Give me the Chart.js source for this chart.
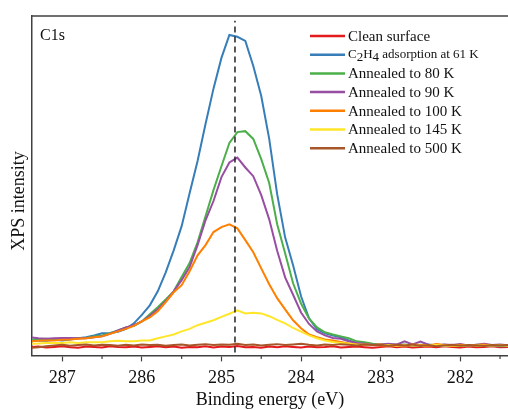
<!DOCTYPE html>
<html>
<head>
<meta charset="utf-8">
<script src="https://cdn.jsdelivr.net/npm/chart.js@4/dist/chart.umd.min.js"></script>
<style>
  body { margin: 0; background: #fff; }
  canvas { display: block; }
</style>
</head>
<body>
<canvas id="xps" width="508" height="410"></canvas>
<script>
// binding energy grid (eV), high to low
var energy = [287.4, 287.3, 287.2, 287.1, 287.0, 286.9, 286.8, 286.7, 286.6, 286.5,
              286.4, 286.3, 286.2, 286.1, 286.0, 285.9, 285.8, 285.7, 285.6, 285.5,
              285.4, 285.3, 285.2, 285.1, 285.0, 284.9, 284.8, 284.7, 284.6, 284.5,
              284.4, 284.3, 284.2, 284.1, 284.0, 283.9, 283.8, 283.7, 283.6, 283.5,
              283.4, 283.3, 283.2, 283.1, 283.0, 282.9, 282.8, 282.7, 282.6, 282.5,
              282.4, 282.3, 282.2, 282.1, 282.0, 281.9, 281.8, 281.7, 281.6, 281.5,
              281.4];

var clean = [-0.6, -0.4, -0.7, -0.5, -0.3, -0.6, -0.8, -0.4, -0.5, -0.7,
             -0.3, -0.5, -0.6, -0.4, -0.7, -0.5, -0.3, -0.6, -0.4, -0.8,
             -0.5, -0.6, -0.3, -0.7, -0.4, -0.5, -0.2, -0.6, -0.5, -0.8,
             -0.4, -0.6, -0.3, -0.5, -0.7, -0.4, -0.6, -0.5, -0.3, -0.7,
             -0.5, -0.4, -0.6, -0.8, -0.5, -0.3, -0.6, -0.4, -0.7, -0.5,
             -0.4, -0.6, -0.3, -0.5, -0.7, -0.4, -0.6, -0.5, -0.3, -0.6,
             -0.5];
var ads61 = [1.6, 1.6, 1.5, 1.8, 1.6, 1.9, 2.3, 2.6, 3.2, 3.9,
             4.0, 4.4, 5.3, 7.1, 9.8, 12.9, 17.4, 23.5, 30.6, 38.4,
             49.0, 59.4, 71.3, 82.7, 92.6, 100.0, 99.4, 98.1, 90.0, 80.3,
             66.5, 48.7, 34.8, 25.8, 15.8, 8.7, 5.2, 3.9, 3.2, 2.6,
             1.6, 0.8, 0.6, 0.3, 0.2, 0.1, 0.3, 0.0, 0.2, -0.1,
             0.3, 0.0, -0.2, 0.1, -0.1, 0.0, 0.2, -0.2, -0.1, -0.3,
             -0.2];
var ann80 = [1.9, 1.9, 2.1, 1.8, 2.0, 2.1, 2.3, 2.4, 2.9, 3.2,
             3.9, 4.8, 5.8, 6.3, 7.7, 10.0, 12.3, 14.8, 17.4, 22.0,
             26.5, 33.2, 41.6, 50.0, 57.7, 65.2, 68.7, 69.0, 66.5, 60.0,
             52.3, 39.0, 29.7, 20.0, 13.5, 8.7, 5.8, 4.2, 3.5, 2.9,
             2.3, 1.3, 1.0, 0.5, 0.2, 0.4, 0.1, 0.3, 0.0, 0.2,
             0.1, -0.1, 0.2, 0.0, -0.1, 0.1, 0.0, -0.2, 0.1, -0.1,
             0.0];
var ann90 = [2.6, 2.3, 2.1, 2.3, 2.4, 2.4, 2.3, 2.3, 2.6, 2.9,
             3.7, 4.8, 5.8, 6.5, 7.7, 9.5, 11.6, 14.2, 17.4, 21.0,
             25.2, 32.3, 40.3, 46.5, 54.2, 58.9, 60.5, 57.3, 54.5, 48.4,
             40.6, 30.5, 21.9, 16.3, 10.6, 6.9, 4.5, 3.2, 2.4, 2.1,
             1.3, 0.8, 0.5, 0.2, 0.3, 0.5, 0.2, 1.3, 0.3, 1.2,
             0.2, 0.0, 0.3, 0.1, 0.4, 0.0, 0.2, 0.5, 0.1, 0.3,
             0.0];
var ann100 = [1.3, 1.5, 1.6, 1.6, 1.8, 1.9, 2.1, 2.3, 2.6, 2.9,
              3.7, 4.5, 5.3, 6.3, 7.7, 9.0, 11.0, 13.9, 17.1, 19.4,
              23.9, 29.0, 32.3, 36.5, 38.1, 39.0, 37.7, 33.9, 30.0, 24.8,
              19.7, 15.2, 11.6, 8.1, 5.5, 3.5, 2.6, 1.9, 1.6, 1.1,
              0.6, 0.3, 0.2, 0.1, 0.3, 0.0, 0.2, -0.1, 0.3, 0.1,
              0.0, 0.4, 0.1, -0.1, 0.2, 0.0, 0.1, 0.3, -0.1, 0.1,
              0.0];
var ann145 = [0.5, 0.6, 0.8, 0.8, 0.8, 1.0, 0.8, 1.0, 1.0, 1.0,
              1.3, 1.5, 1.3, 1.3, 1.6, 1.6, 2.3, 2.9, 3.5, 4.5,
              5.3, 6.5, 7.3, 8.1, 9.2, 10.2, 11.3, 10.3, 10.5, 10.3,
              9.4, 8.2, 7.1, 5.6, 4.4, 3.2, 2.3, 1.6, 1.1, 0.8,
              0.5, 0.2, 0.2, 0.1, 0.0, 0.1, -0.1, 0.0, 0.1, -0.2,
              0.0, 0.1, -0.1, 0.0, -0.2, 0.1, 0.0, -0.1, 0.0, 0.1,
              -0.1];
var ann500 = [-0.8, -0.6, -0.3, 0.0, 0.2, -0.1, 0.1, 0.3, 0.0, 0.2,
              0.1, -0.1, 0.2, 0.0, 0.3, 0.1, 0.2, -0.1, 0.1, 0.3,
              0.0, 0.2, 0.4, 0.1, 0.3, 0.2, 0.5, 0.1, 0.3, 0.0,
              0.2, 0.4, 0.1, 0.3, 0.5, 0.2, 0.0, 0.3, 0.1, 0.4,
              0.2, 0.0, 0.3, 0.1, 0.2, -0.1, 0.2, 0.0, 0.3, -0.2,
              0.1, -0.3, 0.0, 0.2, -0.1, 0.1, 0.0, -0.2, 0.1, 0.0,
              0.1];

var seriesNames = ['Clean surface', 'C2H4 adsorption at 61 K', 'Annealed to 80 K', 'Annealed to 90 K',
                   'Annealed to 100 K', 'Annealed to 145 K', 'Annealed to 500 K'];
var seriesData = [clean, ads61, ann80, ann90, ann100, ann145, ann500];
var seriesColors = ['#e41a1c', '#377eb8', '#4daf4a', '#984ea3', '#ff7f00', '#ffe629', '#a65628'];

var peakEnergy = 284.83;   // dashed reference line
var xTicksMinor = [286.5, 285.5, 284.5, 283.5, 282.5, 281.5];

var axisColor = '#404040';
var serif = '"Liberation Serif", "Times New Roman", serif';

function toPoints(ys) {
    return energy.map(function(e, i) { return {x: e, y: ys[i]}; });
}

var datasets = seriesData.map(function(ys, i) {
    return {
        label: seriesNames[i],
        data: toPoints(ys),
        borderColor: seriesColors[i],
        borderWidth: 2,
        pointRadius: 0,
        tension: 0,
        order: 10 - i
    };
});
datasets.push({
    label: 'peak',
    data: [{x: peakEnergy, y: -2.3}, {x: peakEnergy, y: 104.6}],
    borderColor: '#222',
    borderWidth: 1.5,
    borderDash: [6, 4],
    pointRadius: 0,
    order: 0
});

// frame, minor ticks, titles and legend drawn on top of the chart
var decorations = {
    id: 'decorations',
    afterDraw: function(chart) {
        var ctx = chart.ctx;
        var area = chart.chartArea;
        var xs = chart.scales.x;
        ctx.save();

        // top frame line
        ctx.strokeStyle = axisColor;
        ctx.lineWidth = 1.5;
        ctx.beginPath();
        ctx.moveTo(area.left, area.top);
        ctx.lineTo(area.right, area.top);
        ctx.stroke();

        // minor ticks
        ctx.lineWidth = 1.2;
        xTicksMinor.forEach(function(v) {
            var px = xs.getPixelForValue(v);
            ctx.beginPath();
            ctx.moveTo(px, area.bottom);
            ctx.lineTo(px, area.bottom + 3.5);
            ctx.stroke();
        });

        ctx.fillStyle = '#111';
        ctx.font = '18px ' + serif;
        ctx.textAlign = 'center';
        ctx.textBaseline = 'middle';

        // x title
        ctx.fillText('Binding energy (eV)', (area.left + area.right) / 2, 400);

        // y title
        ctx.translate(19, 201);
        ctx.rotate(-Math.PI / 2);
        ctx.fillText('XPS intensity', 0, 0);
        ctx.setTransform(1, 0, 0, 1, 0, 0);

        // panel label
        ctx.textAlign = 'left';
        ctx.font = '16px ' + serif;
        ctx.fillText('C1s', 40, 36);

        // legend
        var lx = 310, ly = 36, step = 18.7;
        seriesNames.forEach(function(name, i) {
            var y = ly + i * step;
            ctx.strokeStyle = seriesColors[i];
            ctx.lineWidth = 2.5;
            ctx.beginPath();
            ctx.moveTo(lx, y);
            ctx.lineTo(lx + 35, y);
            ctx.stroke();
            ctx.fillStyle = '#111';
            if (i == 1) {
                // C2H4 with lowered digits
                ctx.font = '13px ' + serif;
                var x = lx + 38;
                var parts = [['C', 0], ['2', 3], ['H', 0], ['4', 3], [' adsorption at 61 K', 0]];
                parts.forEach(function(p) {
                    ctx.fillText(p[0], x, y + p[1]);
                    x += ctx.measureText(p[0]).width;
                });
            } else {
                ctx.font = '15px ' + serif;
                ctx.fillText(name, lx + 38, y + 1);
            }
        });
        ctx.restore();
    }
};

var ctx = document.getElementById('xps');
var chart = new Chart(ctx, {
    type: 'line',
    data: { datasets: datasets },
    options: {
        responsive: false,
        animation: false,
        layout: { padding: { left: 32, top: 16, right: 0, bottom: 15 } },
        plugins: {
            legend: { display: false },
            tooltip: { enabled: false }
        },
        scales: {
            x: {
                type: 'linear',
                reverse: true,
                min: 281.4,
                max: 287.38,
                border: { color: axisColor, width: 1.5 },
                grid: { drawOnChartArea: false, drawTicks: true, tickLength: 6, color: axisColor, tickWidth: 1.2 },
                ticks: {
                    stepSize: 1,
                    includeBounds: false,
                    color: '#111',
                    padding: 6,
                    font: { family: serif, size: 18 },
                    callback: function(v) { return v; }
                }
            },
            y: {
                min: -3.23,
                max: 106.1,
                border: { display: true, color: axisColor, width: 1.5 },
                grid: { display: false, drawTicks: false },
                ticks: { display: false }
            }
        }
    },
    plugins: [decorations]
});
</script>
</body>
</html>
